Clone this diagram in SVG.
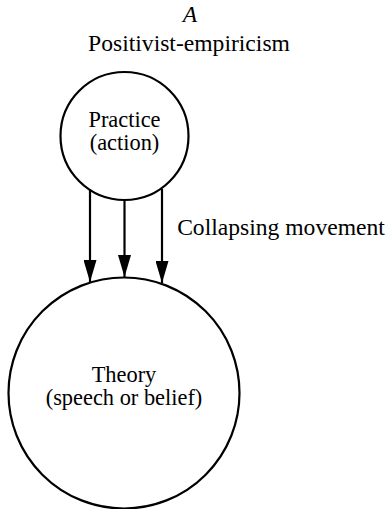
<svg xmlns="http://www.w3.org/2000/svg" width="389" height="509" viewBox="0 0 389 509">
<style>
text{font-family:"Liberation Serif","Times New Roman",serif;font-size:23.6px;fill:#000;text-anchor:middle}
text.lbl{font-size:22.4px}
.node{fill:#fff;stroke:#000;stroke-width:2.2}
.conn{stroke:#000;stroke-width:2.2;fill:none}
</style>
<defs>
<marker id="ah" viewBox="0 0 22 13" refX="22" refY="6.5" markerWidth="22" markerHeight="13" markerUnits="userSpaceOnUse" orient="auto">
<path d="M0,0 L22,6.5 L0,13 Z" fill="#000"/>
</marker>
</defs>
<rect width="389" height="509" fill="#fff"/>
<g id="title">
<text x="190" y="22" font-style="italic">A</text>
<text x="189" y="51">Positivist-empiricism</text>
</g>
<g id="practice">
<circle class="node" cx="124.5" cy="136" r="64"/>
<text class="lbl" x="124.5" y="127">Practice</text>
<text class="lbl" x="124.5" y="150">(action)</text>
</g>
<g id="theory">
<circle class="node" cx="124" cy="393" r="115.5"/>
<text class="lbl" x="124" y="382">Theory</text>
<text class="lbl" x="124" y="405">(speech or belief)</text>
</g>
<g id="connectors">
<line class="conn" x1="90" y1="189" x2="90" y2="282" marker-end="url(#ah)"/>
<line class="conn" x1="124.5" y1="200" x2="124.5" y2="277" marker-end="url(#ah)"/>
<line class="conn" x1="162" y1="189" x2="162" y2="283" marker-end="url(#ah)"/>
<text x="281" y="235">Collapsing movement</text>
</g>
</svg>
